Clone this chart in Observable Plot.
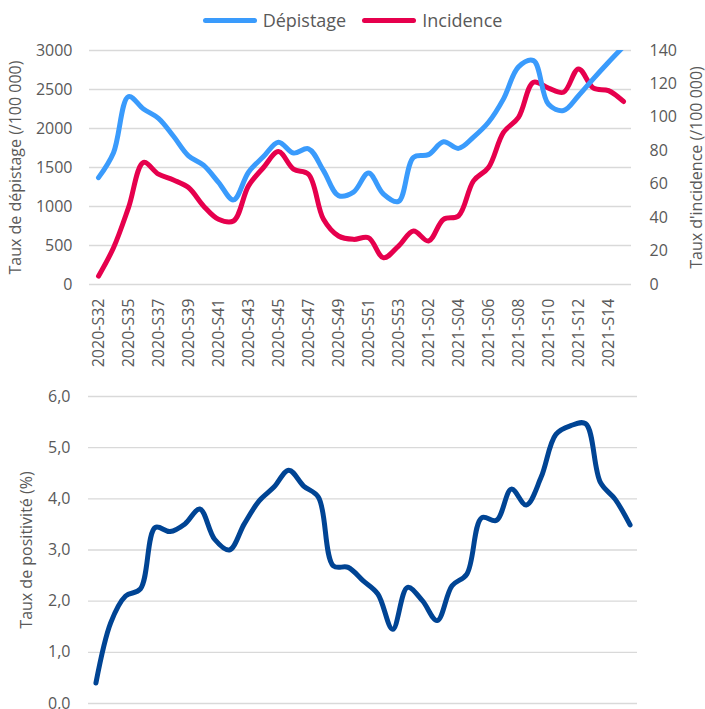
<!DOCTYPE html>
<html><head><meta charset="utf-8">
<script src="https://cdn.jsdelivr.net/npm/d3@7"></script>
<script src="https://cdn.jsdelivr.net/npm/@observablehq/plot@0.6"></script>
<style>
html,body{margin:0;padding:0;background:#fff;}
#wrap{position:relative;width:705px;height:709px;overflow:hidden;font-family:'Open Sans',sans-serif;color:#595959;}
.layer{position:absolute;left:0;}
#legend{position:absolute;top:8px;left:0;width:705px;display:flex;justify-content:center;align-items:center;font-size:18px;color:#595959;}
.item{display:flex;align-items:center;margin:0 8px;}
.sw{width:54px;height:5px;border-radius:3px;margin-right:6px;}
</style></head>
<body><div id="wrap">
<div id="legend"></div>
<div id="topA" class="layer" style="top:36px"></div>
<div id="topB" class="layer" style="top:36px"></div>
<div id="topC" class="layer" style="top:36px"></div>
<div id="bottom" class="layer" style="top:376px"></div>
</div>
<script>
// ---- data ----
const weeksTop = ["2020-S32","2020-S34","2020-S35","2020-S36","2020-S37","2020-S38","2020-S39","2020-S40","2020-S41","2020-S42","2020-S43","2020-S44","2020-S45","2020-S46","2020-S47","2020-S48","2020-S49","2020-S50","2020-S51","2020-S52","2020-S53","2021-S01","2021-S02","2021-S03","2021-S04","2021-S05","2021-S06","2021-S07","2021-S08","2021-S09","2021-S10","2021-S11","2021-S12","2021-S13","2021-S14","2021-S15"];
const depistage = [1370,1690,2410,2250,2130,1900,1650,1530,1310,1085,1440,1640,1825,1685,1740,1460,1140,1185,1430,1160,1065,1630,1665,1830,1745,1890,2080,2380,2790,2870,2310,2230,2420,2640,2850,3050];
const incidence = [5,22,46,73,66,62.5,58,47,39,38,59,70,79.5,69,66,39,29,27,28,16,23,32,26,39,41,62,70,91,100,121,117.5,115,129,117.5,116,109.5];
const weeksBottom = ["2020-S32","2020-S33","2020-S34","2020-S35","2020-S36","2020-S37","2020-S38","2020-S39","2020-S40","2020-S41","2020-S42","2020-S43","2020-S44","2020-S45","2020-S46","2020-S47","2020-S48","2020-S49","2020-S50","2020-S51","2020-S52","2020-S53","2021-S01","2021-S02","2021-S03","2021-S04","2021-S05","2021-S06","2021-S07","2021-S08","2021-S09","2021-S10","2021-S11","2021-S12","2021-S13","2021-S14","2021-S15"];
const positivite = [0.4,1.58,2.1,2.24,3.44,3.36,3.51,3.8,3.21,3.0,3.51,3.96,4.23,4.56,4.25,4.03,2.69,2.66,2.4,2.14,1.45,2.27,2.01,1.62,2.3,2.53,3.63,3.58,4.19,3.88,4.42,5.26,5.43,5.47,4.32,3.99,3.49];
const seriesNames = ["Dépistage","Incidence"];
const colors = {"Dépistage":"#3A9BFC","Incidence":"#E6004D",pos:"#004494"};
const labelTicks = weeksTop.filter((d,i)=>i%2===0);

const topData = weeksTop.map((w,i)=>({week:w, dep:depistage[i], inc:incidence[i]}));
const botData = weeksBottom.map((w,i)=>({week:w, pos:positivite[i]}));

const style = {fontFamily:"'Open Sans', sans-serif", fontSize:"16px", color:"#595959", background:"transparent", overflow:"visible"};
const W = 705, HT = 340;
const common = {width:W, height:HT, marginTop:14, marginBottom:92, marginLeft:89, marginRight:74, style};

// layer A: grid + left axis + x axis
const A = Plot.plot({...common,
  x:{type:"point", domain:weeksTop, padding:0.5},
  y:{domain:[0,3000]},
  marks:[
    Plot.gridY({ticks:6, stroke:"#D9D9D9", strokeOpacity:1, strokeWidth:1.3}),
    Plot.axisY({ticks:6, tickSize:0, tickPadding:17, tickFormat:d=>String(d), label:"Taux de dépistage (/100 000)", labelArrow:"none", labelAnchor:"center", labelOffset:80}),
    Plot.axisX({ticks:labelTicks, tickSize:0, tickPadding:14, tickRotate:-90, label:null})
  ]});
document.getElementById("topA").append(A);

// layer B: incidence (right axis)
const B = Plot.plot({...common,
  x:{type:"point", domain:weeksTop, padding:0.5, axis:null},
  y:{domain:[0,140], axis:null},
  marks:[
    Plot.axisY({anchor:"right", ticks:7, tickSize:0, tickPadding:18, tickFormat:d=>String(d), label:"Taux d'incidence (/100 000)", labelArrow:"none", labelAnchor:"center", labelOffset:70}),
    Plot.line(topData, {x:"week", y:"inc", curve:"catmull-rom", stroke:colors["Incidence"], strokeWidth:5, strokeLinecap:"round", strokeLinejoin:"round"})
  ]});
document.getElementById("topB").append(B);

// layer C: dépistage line on top
const C = Plot.plot({...common,
  x:{type:"point", domain:weeksTop, padding:0.5, axis:null},
  y:{domain:[0,3000], axis:null},
  marks:[
    Plot.line(topData, {x:"week", y:"dep", curve:"catmull-rom", stroke:colors["Dépistage"], strokeWidth:5, strokeLinecap:"round", strokeLinejoin:"round", clip:true})
  ]});
document.getElementById("topC").append(C);

// bottom chart
const D = Plot.plot({width:W, height:333, marginTop:20, marginBottom:6, marginLeft:88, marginRight:68, style,
  x:{type:"point", domain:weeksBottom, padding:0.5, axis:null},
  y:{domain:[0,6]},
  marks:[
    Plot.gridY({ticks:6, stroke:"#D9D9D9", strokeOpacity:1, strokeWidth:1.3}),
    Plot.axisY({ticks:6, tickSize:0, tickPadding:18, tickFormat:d=>d.toFixed(1).replace(".",","), label:"Taux de positivité (%)", labelArrow:"none", labelAnchor:"center", labelOffset:68}),
    Plot.line(botData, {x:"week", y:"pos", curve:"catmull-rom", stroke:colors.pos, strokeWidth:5, strokeLinecap:"round", strokeLinejoin:"round"})
  ]});
document.getElementById("bottom").append(D);

// legend
const lg = document.getElementById("legend");
seriesNames.forEach(n=>{
  const it = document.createElement("div"); it.className="item";
  const sw = document.createElement("div"); sw.className="sw"; sw.style.background=colors[n];
  const t = document.createElement("span"); t.textContent=n;
  it.append(sw,t); lg.append(it);
});
</script></body></html>
